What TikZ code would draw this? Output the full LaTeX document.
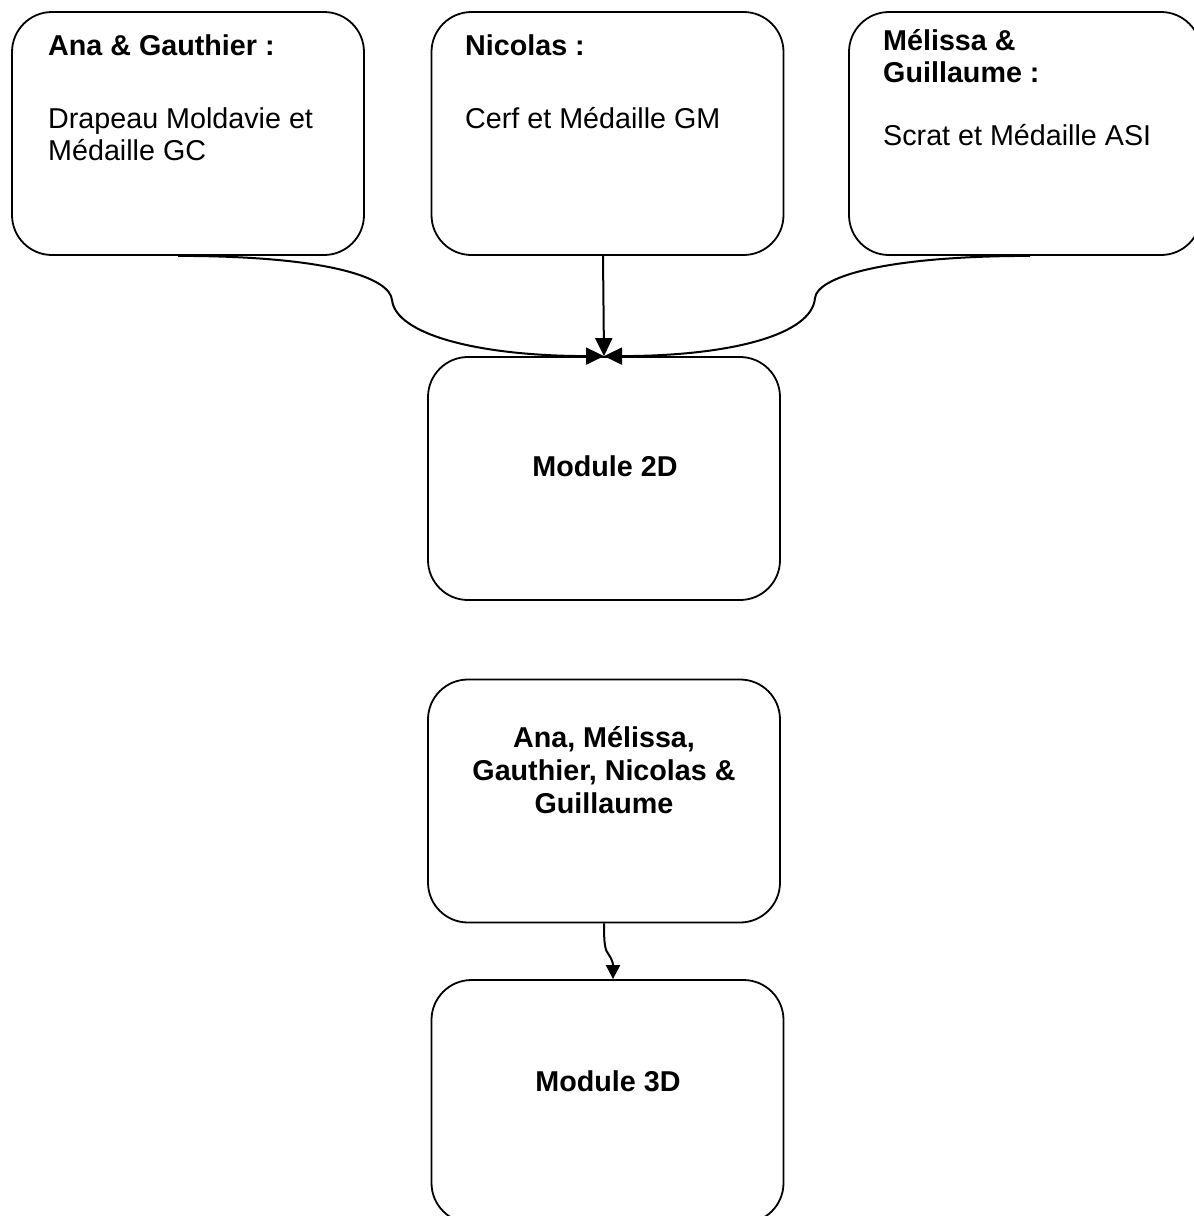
\documentclass[tikz,border=0pt]{standalone}
\usepackage{fontspec}
\setmainfont{Liberation Sans}
\usetikzlibrary{arrows.meta}
\tikzset{
  box/.style={draw=black, line width=1.8pt, rounded corners=40pt, minimum width=352pt, minimum height=243pt, inner sep=0pt},
  txt/.style={anchor=base west, inner sep=0pt, font=\fontsize{28.7}{32}\selectfont},
  btxt/.style={txt, font=\fontsize{28.7}{32}\selectfont\bfseries},
  ctxt/.style={inner sep=0pt, align=center, font=\fontsize{28.7}{33}\selectfont\bfseries},
  conn/.style={draw=black, line width=2pt, -{Triangle[length=18pt,width=17pt]}}
}
\begin{document}
\begin{tikzpicture}[x=1pt,y=-1pt]
\useasboundingbox (0,0) rectangle (1194,1216);
\clip (0,0) rectangle (1194,1216);
% boxes
\node[box] (b1) at (188,133.5) {};
\node[box] (b2) at (607.5,133.5) {};
\node[box] (b3) at (1025,133.5) {};
\node[box] (b2d) at (604,478.5) {};
\node[box] (ball) at (604,801) {};
\node[box] (b3d) at (607.5,1101.5) {};
% texts
\node[btxt] (t1a) at (48,55) {Ana \& Gauthier :};
\node[txt] (t1b) at (48,128) {Drapeau Moldavie et};
\node[txt] (t1c) at (48,160) {Médaille GC};
\node[btxt] (t2a) at (465,55) {Nicolas :};
\node[txt] (t2b) at (465,128) {Cerf et Médaille GM};
\node[btxt] (t3a) at (883,50) {Mélissa \&};
\node[btxt] (t3b) at (883,82) {Guillaume :};
\node[txt] (t3c) at (883,145) {Scrat et Médaille ASI};
\node[ctxt] (m2d) at (605,466) {Module 2D};
\node[ctxt] (tall) at (604,770) {Ana, Mélissa,\\Gauthier, Nicolas \&\\Guillaume};
\node[ctxt] (m3d) at (608,1081) {Module 3D};
% connectors
\coordinate (s1) at ([xshift=-10pt]b1.south);
\coordinate (s2) at ([xshift=-4.5pt]b2.south);
\coordinate (s3) at ([xshift=5pt]b3.south);
\draw[conn] (s1) .. controls (330,256) and (390,278) .. (392,300)
  .. controls (396,335) and (480,356) .. (b2d.north);
\draw[conn] (s2) -- (b2d.north);
\draw[conn] (s3) .. controls (880,256) and (817,278) .. (815,298)
  .. controls (812,335) and (730,356) .. (b2d.north);
\coordinate (s4) at (ball.south);
\coordinate (e4) at ([xshift=5.5pt]b3d.north);
\draw[conn, -{Triangle[length=14pt,width=14pt]}] (s4) .. controls (604,945) and (605,950) .. (609,955)
  .. controls (613,961) and (613,965) .. (e4);
\end{tikzpicture}
\end{document}
